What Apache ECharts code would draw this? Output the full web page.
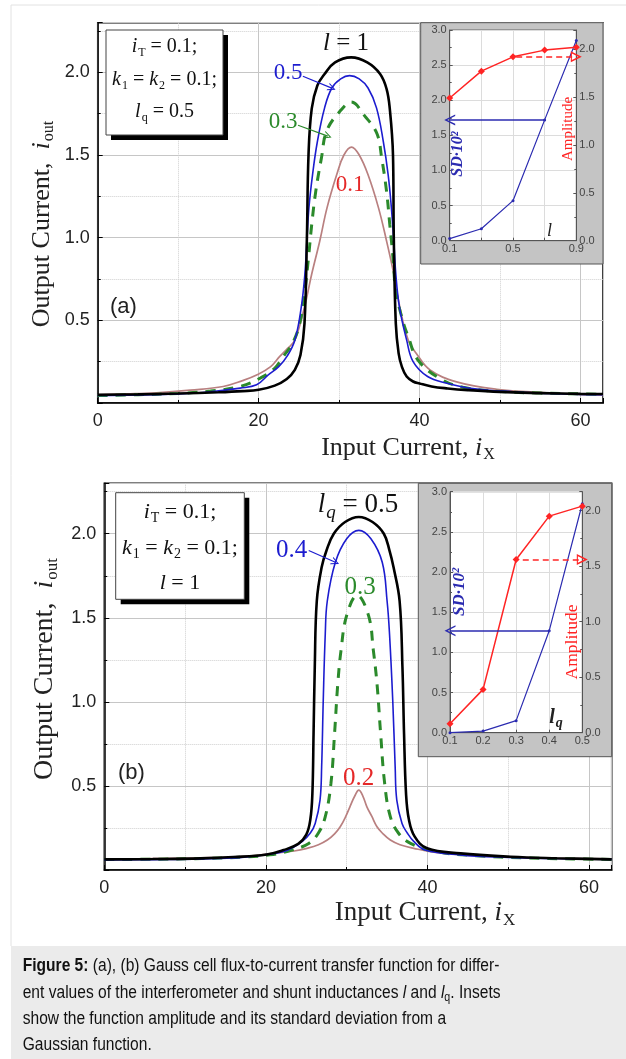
<!DOCTYPE html>
<html lang="en">
<head>
<meta charset="UTF-8">
<title>Figure 5</title>
<script src="https://cdn.jsdelivr.net/npm/echarts@6/dist/echarts.min.js"></script>
<style>
  html, body { margin: 0; padding: 0; background: #fff; }
  #main { width: 626px; height: 1059px; }
</style>
</head>
<body>
<div id="main"></div>
<script>
// ---- panel (a): i_out vs i_X for l = 1, 0.5, 0.3, 0.1 (lq = 0.5) ----
var a_l1_x  = [0, 5, 10, 15, 18, 20, 22, 23.5, 24.5, 25.2, 25.7, 26.0, 26.2, 26.6, 27.3, 28.2, 29.5, 31.5, 33.5, 35.1, 35.9, 36.3, 36.7, 36.8, 37.05, 37.4, 37.8, 38.4, 39.2, 40, 41.5, 43.5, 46, 50, 55, 60, 62.8];
var a_l1_y  = [0.05, 0.052, 0.057, 0.065, 0.072, 0.08, 0.105, 0.145, 0.2, 0.29, 0.48, 1.0, 1.5, 1.78, 1.92, 1.99, 2.06, 2.09, 2.06, 1.99, 1.9, 1.78, 1.5, 1.0, 0.48, 0.3, 0.22, 0.16, 0.13, 0.118, 0.1, 0.088, 0.078, 0.067, 0.06, 0.055, 0.054];
var a_l05_x = [0, 5, 10, 14, 17.7, 19.75, 21.2, 22.5, 23.5, 24.5, 25.3, 25.75, 26.0, 26.25, 26.7, 27.3, 28.2, 29.1, 30.2, 31.3, 32.5, 33.6, 34.65, 35.5, 36.1, 36.5, 36.8, 37.05, 37.5, 38.4, 39.2, 41, 43.4, 46.6, 51.6, 56, 60, 62.8];
var a_l05_y = [0.045, 0.048, 0.055, 0.068, 0.09, 0.11, 0.17, 0.22, 0.28, 0.38, 0.58, 0.78, 0.98, 1.18, 1.38, 1.58, 1.785, 1.905, 1.96, 1.98, 1.96, 1.905, 1.785, 1.58, 1.38, 1.18, 0.98, 0.78, 0.58, 0.38, 0.25, 0.16, 0.12, 0.088, 0.068, 0.058, 0.052, 0.05];
var a_l03_x = [0, 5, 10, 14, 17.7, 20.2, 22, 23.05, 24.2, 25.1, 25.75, 26.2, 26.6, 27.1, 27.8, 28.5, 30.3, 31.5, 33.2, 34.7, 35.3, 35.9, 36.3, 36.7, 37.05, 37.9, 38.6, 39.8, 42.5, 45.4, 50, 55, 60, 62.8];
var a_l03_y = [0.045, 0.05, 0.058, 0.072, 0.1, 0.15, 0.21, 0.28, 0.36, 0.48, 0.68, 0.88, 1.08, 1.28, 1.48, 1.65, 1.775, 1.82, 1.735, 1.63, 1.48, 1.28, 1.08, 0.88, 0.68, 0.5, 0.4, 0.26, 0.149, 0.095, 0.07, 0.06, 0.055, 0.053];
var a_l01_x = [0, 3.5, 7.3, 11.5, 15.6, 18, 19.75, 21.5, 22.6, 23.6, 24.5, 25.7, 26.6, 27.6, 28.5, 29.7, 30.6, 31.55, 32.5, 33.6, 34.9, 35.9, 36.8, 37.55, 38.6, 39.6, 41.3, 44.6, 49.6, 55.8, 60, 62.8];
var a_l01_y = [0.05, 0.055, 0.062, 0.078, 0.10, 0.135, 0.169, 0.22, 0.28, 0.33, 0.38, 0.58, 0.78, 0.98, 1.18, 1.38, 1.5, 1.548, 1.5, 1.38, 1.18, 0.98, 0.78, 0.58, 0.38, 0.3, 0.2, 0.128, 0.083, 0.062, 0.052, 0.048];

// ---- panel (b): lq = 0.5, 0.4, 0.3, 0.2 (l = 1) ----
var b_lq05_x = [0, 6, 11.9, 16, 20.1, 22.2, 24.0, 25.0, 25.5, 25.75, 25.9, 26.05, 26.3, 26.9, 27.5, 28.4, 29.8, 31.5, 33.2, 34.6, 35.3, 35.8, 36.55, 36.9, 37.1, 37.35, 37.7, 38.4, 39.95, 44.1, 50.3, 56, 62.8];
var b_lq05_y = [0.063, 0.065, 0.069, 0.077, 0.092, 0.119, 0.155, 0.21, 0.3, 0.45, 0.81, 1.207, 1.6, 1.8, 1.9, 2.0, 2.07, 2.10, 2.07, 2.0, 1.9, 1.8, 1.6, 1.207, 0.81, 0.45, 0.3, 0.2, 0.129, 0.099, 0.079, 0.07, 0.063];
var b_lq04_x = [0, 6, 12, 17, 20.5, 22.2, 23.4, 24.5, 25.5, 26.1, 26.7, 26.9, 27.1, 27.35, 27.6, 28.6, 30, 31.5, 33, 34.4, 35.0, 35.3, 35.7, 36.0, 36.2, 36.85, 37.5, 38.3, 39.7, 44, 50, 56, 62.8];
var b_lq04_y = [0.06, 0.062, 0.066, 0.075, 0.095, 0.11, 0.135, 0.17, 0.22, 0.277, 0.416, 0.613, 1.01, 1.405, 1.6, 1.83, 1.97, 2.02, 1.97, 1.83, 1.6, 1.405, 1.01, 0.613, 0.416, 0.277, 0.22, 0.17, 0.119, 0.09, 0.075, 0.068, 0.063];
var b_lq03_x = [0, 6, 12, 17, 20.5, 23, 25.3, 26.5, 27.35, 28.05, 28.5, 28.9, 29.3, 30.0, 31.3, 32.7, 33.3, 33.75, 34.2, 34.7, 35.4, 36.4, 37.9, 41, 46, 52, 58, 62.8];
var b_lq03_y = [0.062, 0.064, 0.068, 0.076, 0.09, 0.115, 0.158, 0.22, 0.317, 0.515, 0.812, 1.109, 1.306, 1.514, 1.633, 1.514, 1.306, 1.109, 0.812, 0.515, 0.317, 0.22, 0.158, 0.11, 0.085, 0.072, 0.066, 0.063];
var b_lq02_x = [0, 6, 12, 17, 20.9, 23.5, 25.1, 26.5, 27.6, 28.5, 29.2, 29.9, 30.4, 31.0, 31.5, 32.0, 32.5, 33.1, 33.75, 34.5, 35.4, 36.6, 38.3, 41, 46, 52, 58, 62.8];
var b_lq02_y = [0.065, 0.068, 0.072, 0.08, 0.099, 0.113, 0.129, 0.15, 0.178, 0.215, 0.257, 0.32, 0.376, 0.44, 0.475, 0.44, 0.376, 0.32, 0.257, 0.215, 0.178, 0.15, 0.129, 0.105, 0.085, 0.074, 0.068, 0.066];

// ---- insets: SD*10^2 (left axis) and amplitude (right axis) ----
var insetA_l   = [0.1, 0.3, 0.5, 0.7, 0.9];
var insetA_sd  = [0.03, 0.17, 0.57, 1.72, 2.85];
var insetA_amp = [1.49, 1.77, 1.92, 1.99, 2.02];
var insetB_lq  = [0.1, 0.2, 0.3, 0.4, 0.5];
var insetB_sd  = [0.0, 0.02, 0.15, 1.27, 2.85];
var insetB_amp = [0.08, 0.39, 1.56, 1.95, 2.04];

var SERIF = '"Liberation Serif", "Times New Roman", serif';
var SANS = '"Liberation Sans", Arial, sans-serif';
var BLUE = '#1c1ccf', GREEN = '#2b8a2b', ROSE = '#b98080', LABRED = '#e52828';
var IBLUE = '#2b2bb0', IRED = '#ff2424';
var CHEV = 'path://M0,10 L5,0 L10,10 L8.6,10 L5,2.8 L1.4,10 Z';
var OPENTRI = 'path://M5,0 L10,10 L0,10 Z M5,3 L2,9 L8,9 Z';

function pts(xs, ys) {
    return xs.map(function (x, i) { return [x, ys[i]]; });
}
function halfStep(v) { return Math.abs(v * 2 - Math.round(v * 2)) < 1e-6; }

function mainX(gi) {
    return {
        type: 'value', gridIndex: gi, min: 0, max: 62.8, interval: 20,
        axisLine: { onZero: false, lineStyle: { color: '#000', width: 1.5 } },
        axisTick: { inside: true, length: 5, lineStyle: { color: '#000' } },
        minorTick: { show: true, splitNumber: 2, length: 3, lineStyle: { color: '#000' } },
        splitLine: { show: true, lineStyle: { color: '#c6c6c6', width: 1 } },
        minorSplitLine: { show: true, lineStyle: { color: '#cfcfcf', type: 'dotted' } },
        axisLabel: { fontFamily: SANS, fontSize: 18, color: '#222', margin: 9,
            formatter: function (v) { return v % 20 === 0 ? String(v) : ''; } }
    };
}
function mainY(gi) {
    return {
        type: 'value', gridIndex: gi, min: 0, max: 2.3, interval: 0.5,
        axisLine: { onZero: false, lineStyle: { color: '#000', width: 1.5 } },
        axisTick: { inside: true, length: 5, lineStyle: { color: '#000' } },
        minorTick: { show: true, splitNumber: 2, length: 3, lineStyle: { color: '#000' } },
        splitLine: { show: true, lineStyle: { color: '#c6c6c6', width: 1 } },
        minorSplitLine: { show: true, lineStyle: { color: '#cfcfcf', type: 'dotted' } },
        axisLabel: { fontFamily: SANS, fontSize: 18, color: '#222', margin: 8,
            formatter: function (v) { return (v > 0 && halfStep(v)) ? v.toFixed(1) : ''; } }
    };
}
function insetX(gi, max, step, shown) {
    return {
        type: 'value', gridIndex: gi, min: 0.1, max: max, interval: step, z: 7,
        axisLine: { onZero: false, lineStyle: { color: '#555', width: 1 } },
        axisTick: { inside: true, length: 3, lineStyle: { color: '#555' } },
        splitLine: { show: true, lineStyle: { color: '#dcdcdc' } },
        axisLabel: { fontFamily: SANS, fontSize: 11, color: '#444', margin: 3,
            formatter: function (v) {
                var s = v.toFixed(1);
                return shown.indexOf(s) >= 0 ? s : '';
            } }
    };
}
function insetYL(gi) {
    return {
        type: 'value', gridIndex: gi, min: 0, max: 3, interval: 0.5, z: 7,
        axisLine: { onZero: false, lineStyle: { color: '#555', width: 1 } },
        axisTick: { inside: true, length: 3, lineStyle: { color: '#555' } },
        minorTick: { show: true, splitNumber: 2, length: 2, lineStyle: { color: '#555' } },
        splitLine: { show: true, lineStyle: { color: '#dcdcdc' } },
        axisLabel: { fontFamily: SANS, fontSize: 11, color: '#444', margin: 3,
            formatter: function (v) { return v.toFixed(1); } }
    };
}
function insetYR(gi, max) {
    return {
        type: 'value', gridIndex: gi, position: 'right', min: 0, max: max, interval: 0.5, z: 7,
        axisLine: { show: true, onZero: false, lineStyle: { color: '#555', width: 1 } },
        axisTick: { show: true, inside: true, length: 3, lineStyle: { color: '#555' } },
        minorTick: { show: true, splitNumber: 2, length: 2, lineStyle: { color: '#555' } },
        splitLine: { show: false },
        axisLabel: { fontFamily: SANS, fontSize: 11, color: '#444', margin: 3,
            formatter: function (v) { return halfStep(v) ? v.toFixed(1) : ''; } }
    };
}

function curve(xs, ys, xi, yi, kind) {
    var s = {
        type: 'line', xAxisIndex: xi, yAxisIndex: yi, data: pts(xs, ys),
        smooth: 0.4, z: 2, silent: true, clip: true, showSymbol: false
    };
    if (kind === 'black') {
        s.lineStyle = { color: '#000', width: 2.6 };
        s.z = 3;
    } else if (kind === 'blue') {
        s.lineStyle = { color: BLUE, width: 1.6 };
    } else if (kind === 'green') {
        s.lineStyle = { color: GREEN, width: 3, type: [10, 8] };
    } else {
        s.lineStyle = { color: ROSE, width: 1.7 };
    }
    return s;
}
function pointer(color, from, to) {
    return {
        silent: true, z: 6, symbol: ['none', CHEV], symbolSize: 8, animation: false,
        label: { show: false }, lineStyle: { color: color, width: 1.2, type: 'solid' },
        data: [[{ coord: from }, { coord: to }]]
    };
}

function rich(size, color, bold) {
    var w = bold ? 'bold' : 'normal';
    return {
        it: { fontFamily: SERIF, fontStyle: 'italic', fontWeight: w, fontSize: size, fill: color },
        n: { fontFamily: SERIF, fontWeight: w, fontSize: size, fill: color },
        sub: { fontFamily: SERIF, fontWeight: w, fontSize: Math.round(size * 0.62), fill: color,
            verticalAlign: 'bottom', padding: [Math.round(size * 0.55), 0, 0, 1] },
        isub: { fontFamily: SERIF, fontStyle: 'italic', fontWeight: w, fontSize: Math.round(size * 0.7), fill: color,
            verticalAlign: 'bottom', padding: [Math.round(size * 0.55), 0, 0, 1] }
    };
}
function label(x, y, text, size, color, opt) {
    opt = opt || {};
    return {
        type: 'text', x: x, y: y, z: opt.z || 12, silent: true,
        rotation: opt.rot || 0,
        style: {
            text: text, fontFamily: opt.family || SERIF, fontSize: size, fill: color,
            fontStyle: opt.italic ? 'italic' : 'normal', fontWeight: opt.bold ? 'bold' : 'normal',
            align: opt.align || 'center', verticalAlign: 'middle',
            textAlign: opt.align || 'center', textVerticalAlign: 'middle',
            rich: rich(size, color, opt.bold)
        }
    };
}
function box(x, y, w, h) {
    return [
        { type: 'rect', z: 10, silent: true, shape: { x: x + 5, y: y + 5, width: w, height: h }, style: { fill: '#000' } },
        { type: 'rect', z: 11, silent: true, shape: { x: x, y: y, width: w, height: h }, style: { fill: '#fff', stroke: '#444', lineWidth: 1 } }
    ];
}

var capRich = {
    b: { fontFamily: SANS, fontWeight: 'bold', fontSize: 17.5, fill: '#111' },
    i: { fontFamily: SANS, fontStyle: 'italic', fontSize: 17.5, fill: '#111' },
    s: { fontFamily: SANS, fontSize: 12, fill: '#111', verticalAlign: 'bottom', padding: [10, 0, 0, 0] }
};
function capLine(y, text) {
    return {
        type: 'text', x: 22.7, y: y, z: 12, silent: true, scaleX: 0.89,
        style: { text: text, fontFamily: SANS, fontSize: 17.5, fill: '#111',
            align: 'left', verticalAlign: 'middle', textAlign: 'left', textVerticalAlign: 'middle', rich: capRich }
    };
}

var graphics = [
    { type: 'polyline', z: 1, silent: true, shape: { points: [[11, 946], [11, 5], [626, 5]] }, style: { stroke: '#e2e2e2', lineWidth: 1, fill: null } },
    { type: 'rect', z: 1, silent: true, shape: { x: 11, y: 946, width: 615, height: 113 }, style: { fill: '#ebebeb' } },
    capLine(966, '{b|Figure 5:} (a), (b) Gauss cell flux-to-current transfer function for differ-'),
    capLine(993, 'ent values of the interferometer and shunt inductances {i|l} and {i|l}{s|q}. Insets'),
    capLine(1019.5, 'show the function amplitude and its standard deviation from a'),
    capLine(1045, 'Gaussian function.'),
    // inset frames
    { type: 'rect', z: 5, silent: true, shape: { x: 420.7, y: 22.7, width: 182.3, height: 241.3 }, style: { fill: '#c4c4c4', stroke: '#555', lineWidth: 1 } },
    { type: 'rect', z: 5, silent: true, shape: { x: 418.3, y: 483.3, width: 193.4, height: 273.4 }, style: { fill: '#c4c4c4', stroke: '#555', lineWidth: 1 } }
]
.concat(box(106, 30, 117, 105))
.concat(box(115.7, 492.7, 128.6, 106.6))
.concat([
    label(164.5, 47, '{it|i}{sub|T}{n| = 0.1;}', 20, '#111'),
    label(164.5, 80, '{it|k}{sub|1}{n| = }{it|k}{sub|2}{n| = 0.1;}', 20, '#111'),
    label(164.5, 112, '{it|l}{sub|q}{n| = 0.5}', 20, '#111'),
    label(180, 512, '{it|i}{sub|T}{n| = 0.1;}', 22, '#111'),
    label(180, 548, '{it|k}{sub|1}{n| = }{it|k}{sub|2}{n| = 0.1;}', 22, '#111'),
    label(180, 583, '{it|l}{n| = 1}', 22, '#111'),

    label(110, 307, '(a)', 22, '#222', { family: SANS, align: 'left' }),
    label(118, 773, '(b)', 22, '#222', { family: SANS, align: 'left' }),
    label(346, 43, '{it|l}{n| = 1}', 25, '#111'),
    label(288, 73, '0.5', 23, BLUE),
    label(283, 122, '0.3', 23, GREEN),
    label(350, 185, '0.1', 23, LABRED),
    label(358, 505, '{it|l}{isub|q}{n| = 0.5}', 27, '#111'),
    label(291.5, 550, '0.4', 25, BLUE),
    label(360, 587, '0.3', 25, GREEN),
    label(358.5, 778, '0.2', 25, LABRED),

    label(408, 448, '{n|Input Current, }{it|i}{sub|X}', 26, '#222'),
    label(425, 913, '{n|Input Current, }{it|i}{sub|X}', 27, '#222'),
    label(42, 224, '{n|Output Current,  }{it|i}{sub|out}', 26, '#222', { rot: Math.PI / 2 }),
    label(45, 669, '{n|Output Current,  }{it|i}{sub|out}', 28, '#222', { rot: Math.PI / 2 }),

    label(458, 154, 'SD·10²', 16, IBLUE, { rot: Math.PI / 2, bold: true, italic: true, z: 14 }),
    label(568, 129, 'Amplitude', 15, IRED, { rot: Math.PI / 2, z: 14 }),
    label(549.5, 231, 'l', 18, '#222', { italic: true, z: 14 }),
    label(460, 592, 'SD·10²', 17, IBLUE, { rot: Math.PI / 2, bold: true, italic: true, z: 14 }),
    label(572, 642, 'Amplitude', 17.5, IRED, { rot: Math.PI / 2, z: 14 }),
    label(556, 718, '{it|l}{isub|q}', 20, '#222', { bold: true, z: 14 })
]);

var blueA = curve(a_l05_x, a_l05_y, 0, 0, 'blue');
blueA.markLine = pointer(BLUE, [25.5, 1.976], [29.1, 1.904]);
var greenA = curve(a_l03_x, a_l03_y, 0, 0, 'green');
greenA.markLine = pointer(GREEN, [24.9, 1.68], [28.6, 1.614]);
var blueB = curve(b_lq04_x, b_lq04_y, 2, 3, 'blue');
blueB.markLine = pointer(BLUE, [25.3, 1.90], [28.6, 1.83]);

// sdFrom: x of the SD point the blue arrow starts from; ampFrom: x where the red dashed arrow starts
function insetSeries(xs, sd, amp, xi, yl, yr, sdFrom, sdY, ampFrom, ampY) {
    return [
        {
            type: 'line', xAxisIndex: xi, yAxisIndex: yl, data: pts(xs, sd), z: 8, silent: true,
            symbol: 'circle', symbolSize: 3, itemStyle: { color: IBLUE }, lineStyle: { color: IBLUE, width: 1.2 },
            markLine: {
                silent: true, z: 20, symbol: ['none', CHEV], symbolSize: 11, label: { show: false },
                lineStyle: { color: IBLUE, width: 1.6, type: 'solid' },
                data: [[{ coord: [sdFrom, sdY] }, { coord: [xs[0], sdY] }]]
            }
        },
        {
            type: 'line', xAxisIndex: xi, yAxisIndex: yr, data: pts(xs, amp), z: 9, silent: true,
            symbol: 'diamond', symbolSize: 7, itemStyle: { color: IRED }, lineStyle: { color: IRED, width: 1.5 },
            markLine: {
                silent: true, z: 20, symbol: ['none', OPENTRI], symbolSize: 11, label: { show: false },
                lineStyle: { color: IRED, width: 1.5, type: [6, 4] },
                data: [[{ coord: [ampFrom, ampY] }, { coord: [xs[xs.length - 1], ampY] }]]
            }
        }
    ];
}

var chart = echarts.init(document.getElementById('main'));
chart.setOption({
    animation: false,
    backgroundColor: '#fff',
    grid: [
        { left: 97.7, top: 22.7, width: 505.3, height: 380.3, show: true, borderColor: '#000', borderWidth: 1.5, backgroundColor: 'transparent', containLabel: false, outerBoundsMode: 'none' },
        { left: 449.7, top: 30, width: 126.6, height: 210.7, show: true, backgroundColor: '#fff', borderColor: '#666', borderWidth: 1, z: 6, containLabel: false, outerBoundsMode: 'none' },
        { left: 104.3, top: 483.3, width: 507.4, height: 386.7, show: true, borderColor: '#000', borderWidth: 1.5, backgroundColor: 'transparent', containLabel: false, outerBoundsMode: 'none' },
        { left: 450, top: 491.7, width: 132.3, height: 241, show: true, backgroundColor: '#fff', borderColor: '#666', borderWidth: 1, z: 6, containLabel: false, outerBoundsMode: 'none' }
    ],
    xAxis: [
        mainX(0),
        insetX(1, 0.9, 0.2, ['0.1', '0.5', '0.9']),
        mainX(2),
        insetX(3, 0.5, 0.1, ['0.1', '0.2', '0.3', '0.4', '0.5'])
    ],
    yAxis: [
        mainY(0),
        insetYL(1),
        insetYR(1, 2.2),
        mainY(2),
        insetYL(3),
        insetYR(3, 2.17)
    ],
    graphic: { elements: graphics },
    series: [
        curve(a_l01_x, a_l01_y, 0, 0, 'rose'),
        greenA,
        blueA,
        curve(a_l1_x, a_l1_y, 0, 0, 'black'),
        curve(b_lq02_x, b_lq02_y, 2, 3, 'rose'),
        curve(b_lq03_x, b_lq03_y, 2, 3, 'green'),
        blueB,
        curve(b_lq05_x, b_lq05_y, 2, 3, 'black')
    ]
    .concat(insetSeries(insetA_l, insetA_sd, insetA_amp, 1, 1, 2, 0.7, 1.72, 0.52, 1.92))
    .concat(insetSeries(insetB_lq, insetB_sd, insetB_amp, 3, 4, 5, 0.4, 1.27, 0.32, 1.56))
});
</script>
</body>
</html>
